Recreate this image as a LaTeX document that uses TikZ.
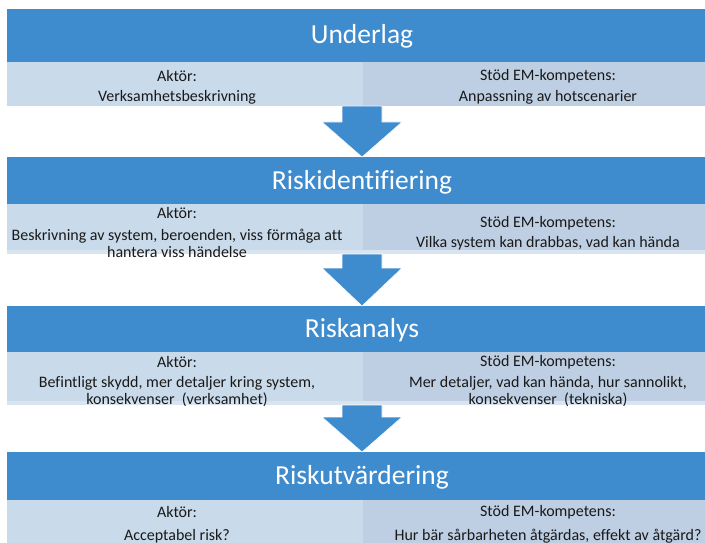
\documentclass[tikz,border=0pt]{standalone}
\usepackage{fontspec}
\setmainfont[Ligatures={NoCommon}]{Carlito}
\definecolor{hblue}{HTML}{3E8BCE}
\definecolor{subL}{HTML}{C9DBEB}
\definecolor{subR}{HTML}{BECFE3}
\definecolor{strip}{HTML}{D8E4F0}
\tikzset{
  hdr/.style={fill=hblue, inner sep=0pt, minimum width=713pt, anchor=north west},
  hdrtext/.style={font=\fontsize{27.5}{29}\selectfont, text=white, inner sep=0pt},
  subl/.style={fill=subL, inner sep=0pt, minimum width=356pt, anchor=north west},
  subr/.style={fill=subR, inner sep=0pt, minimum width=360pt, anchor=north west},
  txt/.style={font=\fontsize{16}{17}\selectfont, text=black!90, align=center, inner sep=0pt},
  blockarrow/.style={fill=hblue, draw=white, line width=0.6pt}
}
\begin{document}
\begin{tikzpicture}[x=1pt,y=-1pt]
\clip (0,0) rectangle (705,543);
\fill[white] (0,0) rectangle (705,543);
% block 1
\node[subl, minimum height=44pt] (s1l) at (7,62) {};
\node[subr, minimum height=44pt] (s1r) at (363,62) {};
\node[hdr, minimum height=53pt] (h1) at (7,9) {};
\node[hdrtext] (t1) at (362,36) {Underlag};
\node[txt] (a1) at (177,76) {Aktör:};
\node[txt] (a1b) at (177,97) {Verksamhetsbeskrivning};
\node[txt] (e1) at (548,76) {Stöd EM-kompetens:};
\node[txt] (e1b) at (548,97) {Anpassning av hotscenarier};
% block 2
\node[subl, minimum height=50pt] (s2l) at (7,204) {};
\node[subr, minimum height=50pt] (s2r) at (363,204) {};
\fill[strip] (s2l.south west) ++(0,-4) rectangle (s2r.south east);
\node[hdr, minimum height=47pt] (h2) at (7,157) {};
\node[hdrtext] (t2) at (362,182) {Riskidentifiering};
\node[txt] (a2) at (177,213) {Aktör:};
\node[txt] (a2b) at (177,243) {Beskrivning av system, beroenden, viss förmåga att\\hantera viss händelse};
\node[txt] (e2) at (548,223) {Stöd EM-kompetens:};
\node[txt] (e2b) at (548,243) {Vilka system kan drabbas, vad kan hända};
% block 3
\node[subl, minimum height=53pt] (s3l) at (7,352) {};
\node[subr, minimum height=53pt] (s3r) at (363,352) {};
\fill[strip] (s3l.south west) ++(0,-4) rectangle (s3r.south east);
\node[hdr, minimum height=46pt] (h3) at (7,306) {};
\node[hdrtext] (t3) at (362,330) {Riskanalys};
\node[txt] (a3) at (177,362) {Aktör:};
\node[txt] (a3b) at (177,392) {Befintligt skydd, mer detaljer kring system,\\konsekvenser\ \ (verksamhet)};
\node[txt] (e3) at (548,362) {Stöd EM-kompetens:};
\node[txt] (e3b) at (548,392) {Mer detaljer, vad kan hända, hur sannolikt,\\konsekvenser\ \ (tekniska)};
% block 4
\node[subl, minimum height=50pt] (s4l) at (7,500) {};
\node[subr, minimum height=50pt] (s4r) at (363,500) {};
\node[hdr, minimum height=48pt] (h4) at (7,452) {};
\node[hdrtext] (t4) at (362,477) {Riskutvärdering};
\node[txt] (a4) at (177,512) {Aktör:};
\node[txt] (a4b) at (177,536) {Acceptabel risk?};
\node[txt] (e4) at (548,512) {Stöd EM-kompetens:};
\node[txt] (e4b) at (548,536) {Hur bär sårbarheten åtgärdas, effekt av åtgärd?};
% arrows
\coordinate (p1) at (362,106); \coordinate (q1) at (362,157);
\coordinate (p2) at (362,254); \coordinate (q2) at (362,306);
\coordinate (p3) at (362,405); \coordinate (q3) at (362,452);
\foreach \p/\q/\s in {p1/q1/16, p2/q2/14, p3/q3/12}{
  \fill[blockarrow] ([xshift=-20pt]\p) -- ([xshift=20pt]\p) -- ([xshift=20pt,yshift=-\s pt]\p)
    -- ([xshift=40pt,yshift=-\s pt]\p) -- (\q) -- ([xshift=-40pt,yshift=-\s pt]\p)
    -- ([xshift=-20pt,yshift=-\s pt]\p) -- cycle;
}
\end{tikzpicture}
\end{document}
